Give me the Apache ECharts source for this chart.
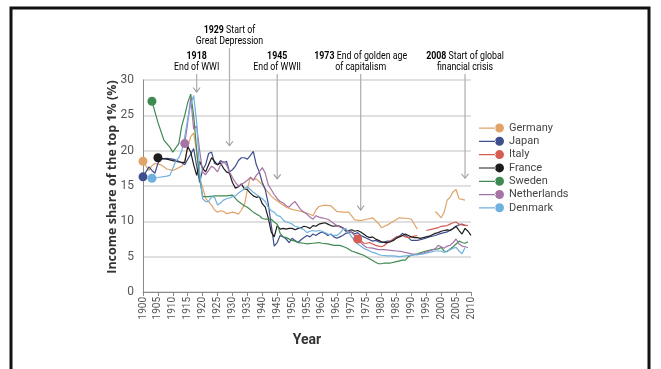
<!DOCTYPE html>
<html><head><meta charset="utf-8">
<script src="https://cdn.jsdelivr.net/npm/echarts@6/dist/echarts.min.js"></script>
<style>html,body{margin:0;padding:0;background:#fff}#c{width:661px;height:369px}</style>
</head><body><div id="c"></div>
<script>
// ---- data ----
const seriesNames = ['Germany','Japan','Italy','France','Sweden','Netherlands','Denmark'];
const seriesColors = ['#e0a46a','#3f4e8e','#d65d52','#1c1c1c','#3f8a52','#a673a6','#6fb0de'];

const germanyYears = [1900,1901,1902,1903,1904,1906,1908,1910,1912,1913,1914,1915,1916,1917,1918,1919,1920,1921,1922,1923,1924,1925,1926,1927,1928,1929,1930,1931,1932,1933,1934,1935,1936,1937,1938,1939,1940,1941,1942,1943,1944,1946,1948,1950,1952,1954,1956,1957,1958,1959,1961,1963,1965,1967,1969,1971,1973,1975,1977,1979,1980,1982,1984,1986,1989,1990,1992,1995,1998,1999,2000,2001,2002,2003,2004,2005,2006,2007,2008];
const germanyVals  = [18.5,17.8,17.2,17.9,18.2,18.0,17.4,17.2,17.6,17.8,18.6,20.5,22.0,22.5,19.8,16.0,14.8,13.3,12.8,12.3,11.6,11.3,11.5,11.4,11.1,11.2,11.3,11.2,11.0,11.6,12.3,14.5,16.3,15.9,16.0,15.6,15.2,14.6,14.1,13.6,13.2,12.6,12.0,11.7,11.5,11.3,11.0,10.8,11.6,12.1,12.3,12.2,11.4,11.3,11.3,10.2,10.1,10.3,10.5,9.7,9.1,9.5,10.0,10.5,10.4,10.3,8.9,null,11.4,11.0,10.5,11.3,13.0,13.4,14.2,14.5,13.2,13.1,13.0];

const japanYears = [1900,1901,1902,1903,1904,1905,1906,1908,1910,1912,1913,1914,1915,1916,1917,1918,1919,1920,1921,1922,1923,1924,1925,1926,1927,1928,1929,1930,1931,1932,1933,1934,1935,1936,1937,1938,1939,1940,1941,1942,1943,1944,1945,1946,1947,1948,1949,1950,1951,1952,1953,1954,1955,1956,1957,1958,1959,1960,1961,1962,1963,1964,1965,1966,1967,1968,1969,1970,1971,1972,1973,1974,1975,1976,1977,1978,1979,1980,1981,1982,1983,1984,1985,1986,1987,1988,1989,1990,1992,1994,1996,1998,2000,2002,2004,2005,2006,2007,2008];
const japanVals  = [16.3,17.0,17.7,17.2,16.8,18.2,18.8,18.9,18.8,18.5,18.3,18.0,18.8,19.5,20.3,17.8,15.5,17.3,18.0,19.6,19.8,18.2,18.0,18.6,18.3,18.5,17.0,17.3,17.8,18.6,19.0,19.0,18.8,19.3,19.9,18.0,17.0,15.5,14.5,12.5,9.5,6.5,7.0,8.0,7.8,7.5,7.0,7.6,7.3,7.0,7.4,7.7,8.0,7.8,8.2,8.0,8.3,8.5,8.3,8.0,8.2,7.8,7.6,7.8,8.0,8.3,8.4,8.5,8.2,8.4,8.0,7.8,7.6,7.4,7.2,7.3,7.1,7.0,7.1,7.2,7.2,7.5,7.8,7.9,8.3,8.0,7.7,7.3,7.3,7.5,7.8,8.0,8.3,8.5,9.0,9.3,9.5,9.6,9.4];

const italyYears = [1972,1973,1974,1975,1976,1977,1978,1979,1980,1981,1982,1983,1984,1985,1986,1987,1988,1989,1990,1991,1992,1993,1995,1997,1999,2000,2002,2003,2004,2005,2006,2007,2009];
const italyVals  = [7.5,7.3,6.9,6.9,7.0,6.8,6.6,6.5,6.4,6.6,7.0,7.2,7.5,7.7,7.9,8.0,7.8,7.7,7.8,7.9,8.0,null,8.7,8.9,9.1,9.3,9.4,9.6,9.8,9.9,9.6,9.5,9.4];

const franceYears = [1905,1906,1908,1910,1912,1914,1915,1916,1917,1918,1919,1920,1921,1922,1923,1924,1925,1926,1927,1928,1929,1930,1931,1932,1933,1934,1935,1936,1937,1938,1939,1940,1941,1942,1943,1944,1945,1946,1947,1948,1949,1950,1951,1952,1953,1954,1955,1956,1957,1958,1959,1960,1961,1962,1963,1964,1965,1966,1967,1968,1969,1970,1971,1972,1973,1974,1975,1976,1977,1978,1979,1980,1981,1982,1983,1984,1985,1986,1987,1988,1989,1990,1991,1992,1993,1994,1995,1996,1997,1998,1999,2000,2001,2002,2003,2004,2005,2006,2007,2008,2009,2010];
const franceVals  = [19.0,18.9,18.8,18.6,18.4,18.3,20.6,19.8,18.0,16.5,18.5,17.5,17.0,18.0,19.0,18.5,18.0,18.3,17.5,17.0,16.8,15.5,14.7,14.9,15.3,14.6,14.5,14.0,13.6,13.4,13.5,12.5,12.0,10.5,8.5,7.8,9.4,8.9,9.0,8.9,9.0,9.0,8.8,9.0,9.1,9.3,9.2,9.0,9.4,9.3,9.6,9.7,9.8,9.6,9.4,9.3,9.4,9.3,9.1,8.6,8.7,8.8,8.6,8.7,8.5,8.2,7.9,7.7,7.8,7.5,7.3,7.1,7.0,7.0,7.1,7.3,7.6,7.8,8.0,8.2,8.0,7.8,7.7,7.7,7.6,7.7,7.8,7.9,8.1,8.3,8.4,8.6,8.7,8.8,8.7,9.0,9.3,8.7,8.2,9.0,8.6,8.0];

const swedenYears = [1903,1905,1907,1909,1910,1912,1913,1914,1915,1916,1917,1918,1919,1920,1922,1924,1926,1928,1930,1932,1934,1935,1937,1939,1940,1941,1943,1944,1945,1946,1947,1948,1950,1951,1952,1954,1955,1957,1959,1960,1962,1964,1966,1968,1970,1972,1974,1976,1978,1979,1980,1981,1983,1985,1987,1988,1989,1990,1992,1994,1995,1996,1997,1999,2000,2001,2002,2003,2004,2005,2006,2007,2008,2009];
const swedenVals  = [27.0,24.0,21.5,20.5,19.8,21.0,23.5,25.0,26.8,28.0,25.0,20.0,16.0,13.5,13.5,13.6,13.6,13.6,13.7,12.8,12.2,12.0,11.3,10.8,10.4,10.3,10.3,9.9,9.6,8.3,7.8,7.7,7.3,7.2,7.0,6.9,6.8,6.9,7.0,6.9,6.8,6.6,6.6,6.3,5.8,5.5,5.2,4.7,4.2,4.0,4.0,4.1,4.1,4.3,4.5,4.5,5.0,5.2,5.4,5.7,5.8,5.9,6.0,6.1,6.3,5.8,5.7,6.1,6.4,6.8,7.2,7.0,6.9,7.1];

const netherlandsYears = [1914,1915,1916,1917,1918,1919,1920,1921,1922,1923,1924,1925,1926,1927,1928,1929,1930,1931,1932,1933,1934,1935,1936,1937,1938,1939,1940,1941,1942,1943,1944,1945,1946,1947,1948,1949,1950,1951,1952,1953,1954,1955,1956,1957,1958,1959,1960,1961,1962,1963,1964,1965,1966,1967,1968,1969,1970,1971,1972,1973,1974,1975,1977,1979,1981,1983,1985,1987,1989,1990,1992,1994,1996,1998,1999,2000,2001,2002,2003,2004,2005,2006,2007,2008,2009];
const netherlandsVals  = [21.0,24.0,27.5,23.0,23.5,20.0,17.0,16.6,17.2,17.8,17.5,17.0,18.0,18.5,18.0,17.0,16.2,15.5,15.0,15.2,15.5,15.8,16.2,15.8,16.5,17.0,17.6,16.8,15.2,14.5,13.8,13.2,12.8,12.6,12.2,12.0,12.5,12.8,12.2,11.6,11.3,11.0,10.6,10.3,10.8,10.6,10.5,10.4,10.3,10.0,9.7,9.4,9.2,9.0,8.8,8.6,8.4,8.0,7.4,7.0,6.6,6.3,6.2,6.0,6.0,5.9,5.8,5.7,5.5,5.4,5.3,5.5,5.8,6.1,6.6,6.4,6.2,6.5,6.6,7.0,7.5,6.8,6.5,6.4,6.3];

const denmarkYears = [1903,1905,1908,1909,1910,1911,1912,1913,1914,1915,1916,1917,1918,1919,1920,1921,1922,1923,1924,1925,1926,1927,1928,1929,1930,1931,1932,1933,1934,1935,1936,1937,1938,1939,1940,1941,1942,1943,1944,1945,1946,1947,1948,1949,1950,1951,1952,1953,1954,1955,1956,1957,1958,1959,1960,1961,1962,1963,1964,1965,1966,1967,1968,1969,1970,1971,1972,1973,1974,1975,1976,1977,1978,1979,1980,1982,1984,1986,1988,1990,1992,1994,1996,1998,2000,2001,2002,2003,2004,2005,2006,2007,2008];
const denmarkVals  = [16.1,16.2,16.4,16.5,17.5,18.5,19.0,20.0,22.0,24.5,26.5,27.8,24.0,17.0,13.2,12.8,12.8,13.5,13.4,12.3,12.6,13.0,13.2,13.3,13.5,13.6,14.0,14.3,14.6,14.9,14.5,14.1,13.8,13.5,13.2,12.8,12.0,11.5,11.3,10.8,10.7,10.2,9.9,9.8,9.6,9.3,9.2,9.0,8.8,8.4,8.6,8.7,8.6,8.7,8.6,8.4,8.2,8.1,8.0,8.0,8.3,8.8,9.0,8.4,7.8,7.2,6.8,6.5,6.2,6.0,5.8,5.6,5.5,5.3,5.2,5.1,5.1,5.0,5.1,5.2,5.3,5.4,5.6,5.8,5.8,5.6,5.8,6.0,6.2,6.3,5.8,5.4,6.3];

const yearsList = [germanyYears,japanYears,italyYears,franceYears,swedenYears,netherlandsYears,denmarkYears];
const valsList  = [germanyVals,japanVals,italyVals,franceVals,swedenVals,netherlandsVals,denmarkVals];

const annYears = [1918, 1929, 1945, 1973, 2008];
const annYearLabels = ['1918','1929','1945','1973','2008'];
const annLine1 = ['', ' Start of', '', ' End of golden age', ' Start of global'];
const annLine2 = ['End of WWI', 'Great Depression', 'End of WWII', 'of capitalism', 'financial crisis'];
const annTips = [28.3, 20.7, 16.0, 11.6, 16.1];

const xMin = 1900, xMax = 2010, xStep = 5;
const yMin = 0, yMax = 30, yStep = 5;

// ---- chart ----
const chart = echarts.init(document.getElementById('c'), null, {renderer:'canvas'});
const FONT = 'Roboto,"Noto Sans",sans-serif';
const legendIcon = 'path://M0,4L17,4L17,5.2L0,5.2Z M16,4.5A4.5,4.5,0,1,0,25,4.5A4.5,4.5,0,1,0,16,4.5Z';

const series = seriesNames.map((name, i) => ({
  name: name,
  type: 'line',
  data: yearsList[i].map((y, k) => [y, valsList[i][k]]),
  connectNulls: false,
  symbol: 'circle',
  symbolSize: (v, p) => p.dataIndex === 0 ? 9 : 0,
  showAllSymbol: true,
  lineStyle: { width: 1.2, color: seriesColors[i] },
  itemStyle: { color: seriesColors[i] },
  emphasis: { disabled: true },
  animation: false,
  z: 3
}));

chart.setOption({
  animation: false,
  grid: { left: 143, right: 190, top: 80, bottom: 77 },
  xAxis: {
    type: 'value', min: xMin, max: xMax, interval: xStep,
    name: 'Year', nameLocation: 'middle', nameGap: 41,
    nameTextStyle: { fontFamily: FONT, fontWeight: 'bold', fontSize: 14, color: '#333' },
    axisLine: { show: true, lineStyle: { color: '#8a8a8a', width: 1 } },
    axisTick: { show: true, length: 4, lineStyle: { color: '#8a8a8a' } },
    axisLabel: { rotate: 90, fontSize: 10, color: '#555', fontFamily: FONT, margin: 5, formatter: v => String(v) },
    splitLine: { show: false }
  },
  yAxis: {
    type: 'value', min: yMin, max: yMax, interval: yStep,
    axisLine: { show: true, lineStyle: { color: '#8a8a8a', width: 1 } },
    axisTick: { show: false },
    axisLabel: { fontSize: 12, color: '#555', fontFamily: FONT, margin: 9 },
    splitLine: { show: true, lineStyle: { color: '#d6d6d6', width: 1.5 } }
  },
  legend: {
    orient: 'vertical', left: 474, top: 117,
    itemWidth: 25, itemHeight: 9, itemGap: 1.3, itemStyle: {},
    icon: legendIcon,
    textStyle: { fontFamily: FONT, fontSize: 11, color: '#444', lineHeight: 12 },
    data: seriesNames
  },
  series: series
});

// annotations (positions derived from axis scale)
const g = [];
g.push({ type: 'rect', shape: { x: 11, y: 8, width: 638, height: 400 }, style: { fill: 'none', stroke: '#111', lineWidth: 3 }, silent: true, z: 10 });
g.push({
  type: 'text', x: 112, y: 177, rotation: Math.PI / 2, silent: true, z: 6,
  style: { text: 'Income share of the top 1% (%)', align: 'center', verticalAlign: 'middle',
    fontFamily: '"Open Sans",sans-serif', fontWeight: 'bold', fontSize: 12.5, fill: '#333' }
});
annYears.forEach((yr, i) => {
  const tip = chart.convertToPixel({ xAxisIndex: 0, yAxisIndex: 0 }, [yr, annTips[i]]);
  const x = tip[0];
  const isDep = yr === 1929;
  const lineTop = isDep ? 48 : 74;
  const textTop = isDep ? 25 : 51;
  g.push({ type: 'line', shape: { x1: x, y1: lineTop, x2: x, y2: tip[1] }, style: { stroke: '#b3b3b3', lineWidth: 1.3 }, silent: true, z: 5 });
  g.push({ type: 'polyline', shape: { points: [[x - 3.5, tip[1] - 4.5], [x, tip[1]], [x + 3.5, tip[1] - 4.5]] }, style: { stroke: '#999', lineWidth: 1.1, fill: 'none' }, silent: true, z: 5 });
  g.push({
    type: 'text', x: x, y: textTop, scaleX: 0.8, silent: true, z: 6,
    style: {
      text: '{b|' + annYearLabels[i] + '}{n|' + annLine1[i] + '}\n{n|' + annLine2[i] + '}',
      align: 'center', verticalAlign: 'top',
      rich: {
        b: { fontFamily: FONT, fontWeight: 'bold', fontSize: 11, color: '#333', lineHeight: 11 },
        n: { fontFamily: FONT, fontSize: 11, color: '#444', lineHeight: 11 }
      }
    }
  });
});
chart.setOption({ graphic: g });
</script>
</body></html>
